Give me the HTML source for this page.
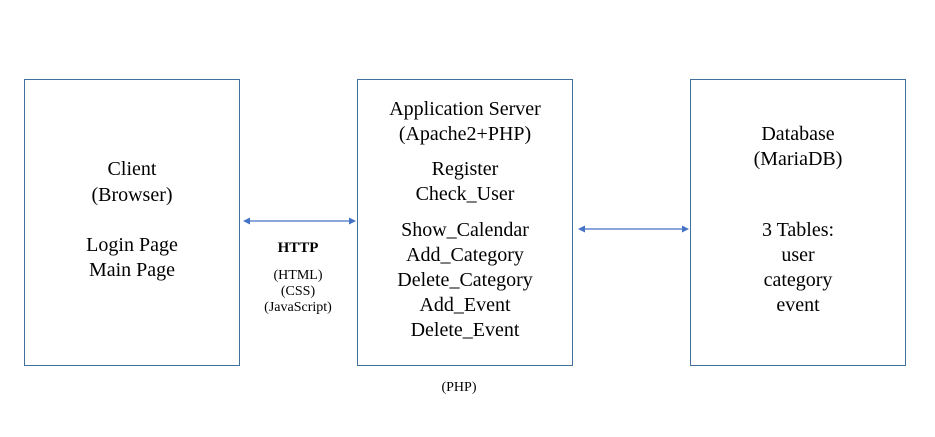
<!DOCTYPE html>
<html><head><meta charset="utf-8"><style>
body{margin:0;width:935px;height:437px;background:#fff;position:relative;overflow:hidden;font-family:"Liberation Serif",serif;color:#000}
.box{position:absolute;border:1px solid #41719c;box-sizing:border-box}
.t{position:absolute;width:300px;text-align:center;font-size:20px;line-height:20px;white-space:nowrap}
.s{position:absolute;width:200px;text-align:center;font-size:14px;line-height:14px}
</style></head><body>
<div class="box" style="left:24px;top:79px;width:216px;height:287px"></div>
<div class="box" style="left:357px;top:79px;width:216px;height:287px"></div>
<div class="box" style="left:690px;top:79px;width:216px;height:287px"></div>

<div class="t" style="left:-18px;top:159px">Client</div>
<div class="t" style="left:-18px;top:185px">(Browser)</div>
<div class="t" style="left:-18px;top:235px">Login Page</div>
<div class="t" style="left:-18px;top:260px">Main Page</div>

<div class="t" style="left:315px;top:99px">Application Server</div>
<div class="t" style="left:315px;top:124px">(Apache2+PHP)</div>
<div class="t" style="left:315px;top:159px">Register</div>
<div class="t" style="left:315px;top:184px">Check_User</div>
<div class="t" style="left:315px;top:220px">Show_Calendar</div>
<div class="t" style="left:315px;top:245px">Add_Category</div>
<div class="t" style="left:315px;top:270px">Delete_Category</div>
<div class="t" style="left:315px;top:295px">Add_Event</div>
<div class="t" style="left:315px;top:320px">Delete_Event</div>

<div class="t" style="left:648px;top:124px">Database</div>
<div class="t" style="left:648px;top:149px">(MariaDB)</div>
<div class="t" style="left:648px;top:220px">3 Tables:</div>
<div class="t" style="left:648px;top:245px">user</div>
<div class="t" style="left:648px;top:270px">category</div>
<div class="t" style="left:648px;top:295px">event</div>

<div class="s" style="left:198px;top:241px;font-weight:bold;font-size:15px">HTTP</div>
<div class="s" style="left:198px;top:269px">(HTML)</div>
<div class="s" style="left:198px;top:285px">(CSS)</div>
<div class="s" style="left:198px;top:301px">(JavaScript)</div>
<div class="s" style="left:359px;top:381px">(PHP)</div>

<svg style="position:absolute;left:0;top:0" width="935" height="437">
<g stroke="#4472c4" stroke-width="1.3" fill="#4472c4">
<line x1="248" y1="221" x2="349" y2="221"/>
<polygon points="243,221 250,217.5 250,224.5" stroke="none"/>
<polygon points="356,221 349,217.5 349,224.5" stroke="none"/>
<line x1="583" y1="229" x2="683" y2="229"/>
<polygon points="578,229 585,225.5 585,232.5" stroke="none"/>
<polygon points="689,229 682,225.5 682,232.5" stroke="none"/>
</g></svg>
</body></html>
